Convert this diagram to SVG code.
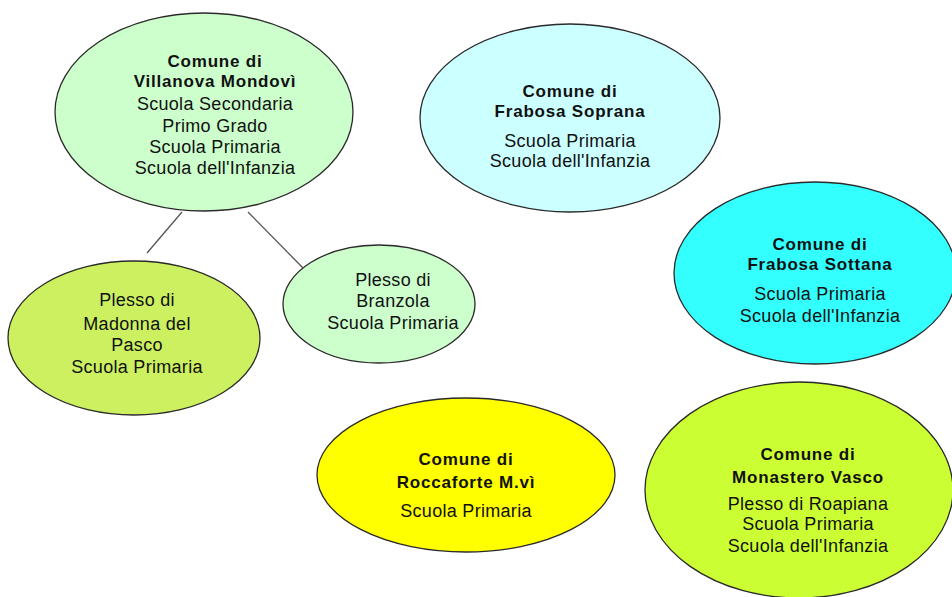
<svg xmlns="http://www.w3.org/2000/svg" width="952" height="597" viewBox="0 0 952 597">
<style>
.n{stroke:#2a2a2a;stroke-width:1.3}
text{font-family:"Liberation Sans",Arial,sans-serif;font-size:18px;fill:#111;text-anchor:middle;letter-spacing:0.3px}
.b{font-weight:bold;font-size:17px;letter-spacing:0.8px}
.c{stroke:#555;stroke-width:1.3;fill:none}
</style>
<rect width="952" height="597" fill="#ffffff"/>
<g id="connectors">
<line class="c" x1="182" y1="212" x2="147" y2="253"/>
<line class="c" x1="248" y1="212" x2="303" y2="268"/>
</g>
<g id="villanova">
<ellipse class="n" cx="204" cy="112" rx="149" ry="99" fill="#ccffcc"/>
<text x="215" y="67" class="b">Comune di</text>
<text x="215" y="87" class="b">Villanova Mondovì</text>
<text x="215" y="110">Scuola Secondaria</text>
<text x="215" y="132">Primo Grado</text>
<text x="215" y="153">Scuola Primaria</text>
<text x="215" y="174">Scuola dell'Infanzia</text>
</g>
<g id="frabosa-soprana">
<ellipse class="n" cx="570" cy="118" rx="150" ry="94" fill="#ccffff"/>
<text x="570" y="97" class="b">Comune di</text>
<text x="570" y="117" class="b">Frabosa Soprana</text>
<text x="570" y="147">Scuola Primaria</text>
<text x="570" y="167">Scuola dell'Infanzia</text>
</g>
<g id="frabosa-sottana">
<ellipse class="n" cx="815" cy="273" rx="141" ry="91" fill="#33ffff"/>
<text x="820" y="250" class="b">Comune di</text>
<text x="820" y="270" class="b">Frabosa Sottana</text>
<text x="820" y="300">Scuola Primaria</text>
<text x="820" y="322">Scuola dell'Infanzia</text>
</g>
<g id="madonna-del-pasco">
<ellipse class="n" cx="134" cy="338" rx="126" ry="77" fill="#ccf060"/>
<text x="137" y="306">Plesso di</text>
<text x="137" y="330">Madonna del</text>
<text x="137" y="351">Pasco</text>
<text x="137" y="373">Scuola Primaria</text>
</g>
<g id="branzola">
<ellipse class="n" cx="379" cy="304" rx="96" ry="59" fill="#ccffcc"/>
<text x="393" y="286">Plesso di</text>
<text x="393" y="307">Branzola</text>
<text x="393" y="329">Scuola Primaria</text>
</g>
<g id="roccaforte">
<ellipse class="n" cx="466" cy="475" rx="149" ry="77" fill="#ffff00"/>
<text x="466" y="465" class="b">Comune di</text>
<text x="466" y="488" class="b">Roccaforte M.vì</text>
<text x="466" y="517">Scuola Primaria</text>
</g>
<g id="monastero-vasco">
<ellipse class="n" cx="799" cy="490" rx="154" ry="108" fill="#ccff33"/>
<text x="808" y="460" class="b">Comune di</text>
<text x="808" y="483" class="b">Monastero Vasco</text>
<text x="808" y="510">Plesso di Roapiana</text>
<text x="808" y="530">Scuola Primaria</text>
<text x="808" y="552">Scuola dell'Infanzia</text>
</g>
</svg>
